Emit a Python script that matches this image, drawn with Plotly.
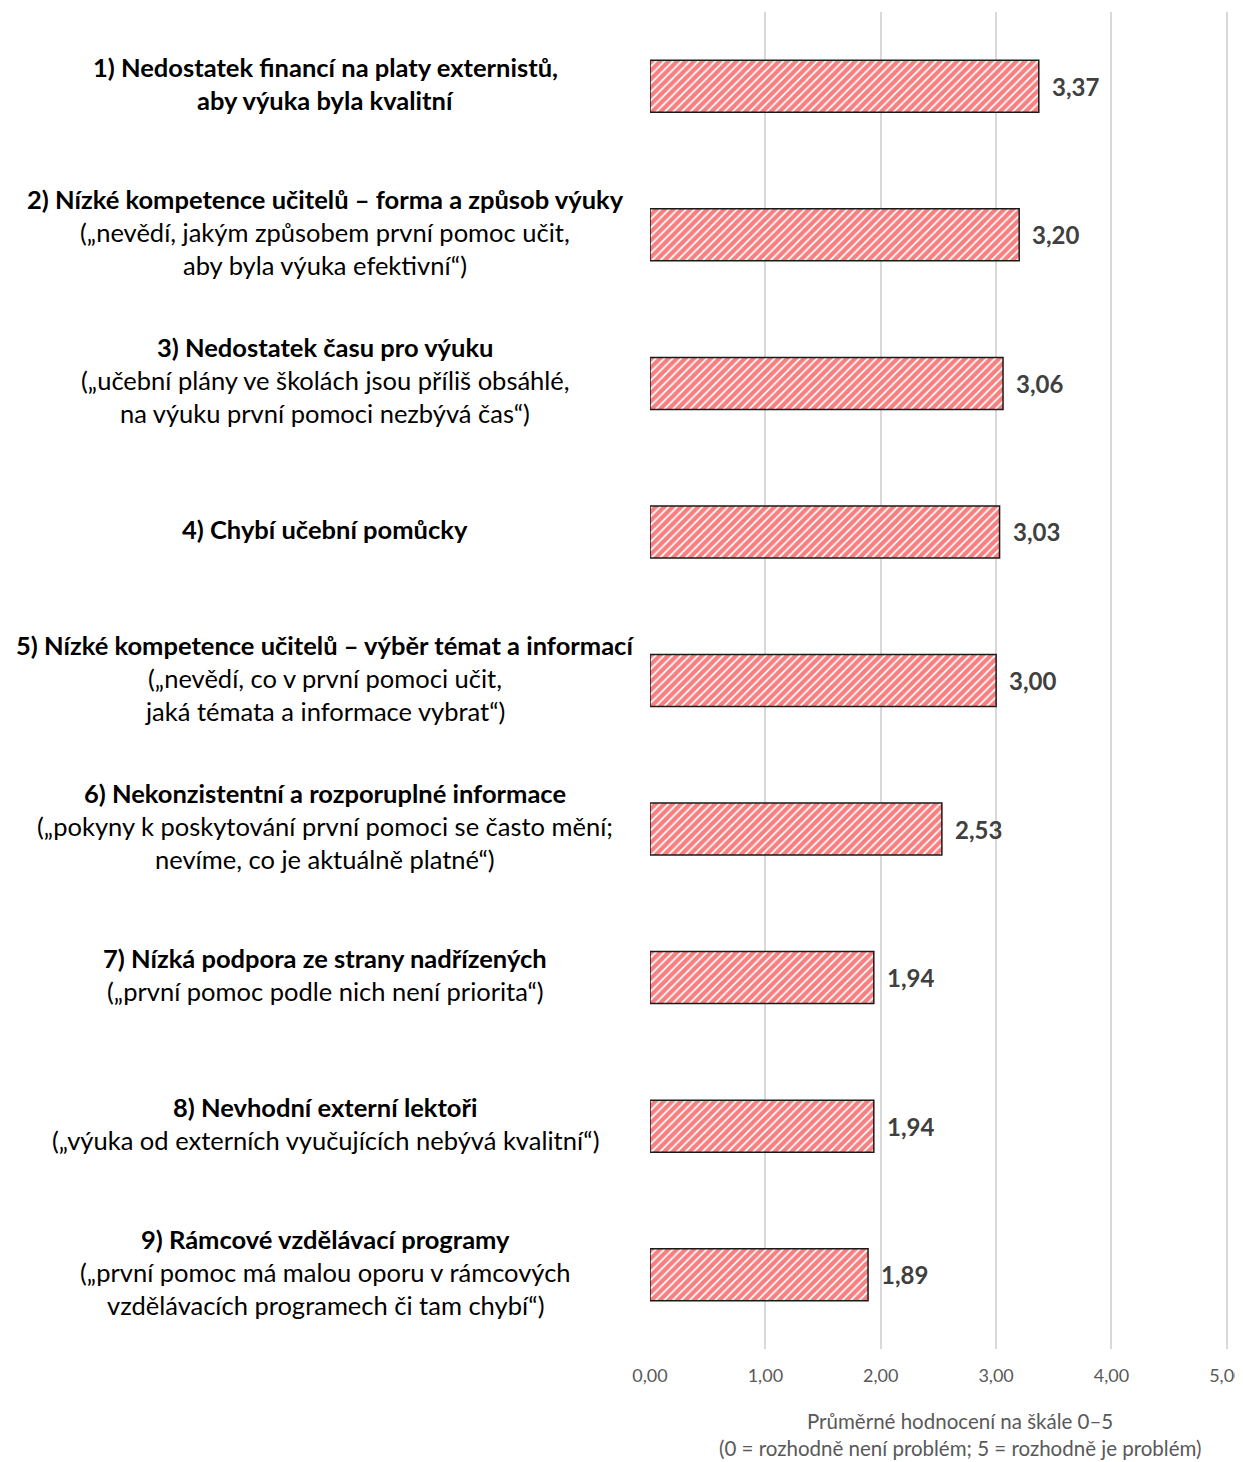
import plotly.graph_objects as go

categories = ["c1", "c2", "c3", "c4", "c5", "c6", "c7", "c8", "c9"]
values = [3.37, 3.20, 3.06, 3.03, 3.00, 2.53, 1.94, 1.94, 1.89]
value_labels = ["3,37", "3,20", "3,06", "3,03", "3,00", "2,53", "1,94", "1,94", "1,89"]
label_bold = [
    ["1) Nedostatek financí na platy externistů,", "aby výuka byla kvalitní"],
    ["2) Nízké kompetence učitelů – forma a způsob výuky"],
    ["3) Nedostatek času pro výuku"],
    ["4) Chybí učební pomůcky"],
    ["5) Nízké kompetence učitelů – výběr témat a informací"],
    ["6) Nekonzistentní a rozporuplné informace"],
    ["7) Nízká podpora ze strany nadřízených"],
    ["8) Nevhodní externí lektoři"],
    ["9) Rámcové vzdělávací programy"],
]
label_normal = [
    [],
    ["(„nevědí, jakým způsobem první pomoc učit,", "aby byla výuka efektivní“)"],
    ["(„učební plány ve školách jsou příliš obsáhlé,", "na výuku první pomoci nezbývá čas“)"],
    [],
    ["(„nevědí, co v první pomoci učit,", "jaká témata a informace vybrat“)"],
    ["(„pokyny k poskytování první pomoci se často mění;", "nevíme, co je aktuálně platné“)"],
    ["(„první pomoc podle nich není priorita“)"],
    ["(„výuka od externích vyučujících nebývá kvalitní“)"],
    ["(„první pomoc má malou oporu v rámcových", "vzdělávacích programech či tam chybí“)"],
]
tick_vals = [0, 1, 2, 3, 4, 5]
tick_text = ["0,00", "1,00", "2,00", "3,00", "4,00", "5,00"]
axis_title = ["Průměrné hodnocení na škále 0–5", "(0 = rozhodně není problém; 5 = rozhodně je problém)"]

FONT = "Lato"
OFF = 8  # default page body margin
W, H = 1243 - OFF, 1462 - OFF
ML, MR, MT, MB = 650 - OFF, 15, 12 - OFF, 113
PW = W - ML - MR
PH = H - MT - MB

fig = go.Figure()
fig.add_trace(go.Bar(
    x=values, y=categories, orientation="h", width=0.35,
    marker=dict(color="white",
                line=dict(color="#1a1a1a", width=1.5),
                pattern=dict(shape="/", fgcolor="#f00000", bgcolor="white",
                             size=6, solidity=0.7)),
    hoverinfo="skip",
))

annotations = []
LINE = 33
for cat, v, vl, bl, nl in zip(categories, values, value_labels, label_bold, label_normal):
    annotations.append(dict(x=v, y=cat, xref="x", yref="y", text="<b>" + vl + "</b>",
                            showarrow=False, xanchor="left", xshift=11,
                            font=dict(family=FONT, size=24, color="#404040")))
    lines = [("<b>" + t + "</b>") for t in bl] + list(nl)
    n = len(lines)
    for i, t in enumerate(lines):
        off = (i - (n - 1) / 2) * LINE
        annotations.append(dict(x=(325 - 650) / PW, y=cat, xref="paper", yref="y",
                                text=t, showarrow=False, xanchor="center", yanchor="middle",
                                yshift=-off + 3,
                                font=dict(family=FONT, size=25.5, color="black")))

for i, t in enumerate(axis_title):
    ypx = 1421 + i * 27
    annotations.append(dict(x=(960 - 650) / PW, y=-(ypx - 1349) / PH,
                            xref="paper", yref="paper", text=t, showarrow=False,
                            xanchor="center", yanchor="middle",
                            font=dict(family=FONT, size=20.5, color="#595959")))

fig.update_layout(
    width=W, height=H,
    margin=dict(l=ML, r=MR, t=MT, b=MB, autoexpand=False),
    paper_bgcolor="white", plot_bgcolor="white",
    showlegend=False,
    annotations=annotations,
    xaxis=dict(range=[0, 5.01], tickvals=tick_vals, ticktext=tick_text,
               showgrid=True, gridcolor="#d9d9d9", gridwidth=1.5,
               zeroline=False, showline=False, ticks="", automargin=False,
               ticklabelstandoff=14, ticklabeloverflow="allow",
               tickfont=dict(family=FONT, size=18, color="#595959")),
    yaxis=dict(type="category", categoryorder="array", categoryarray=categories,
               autorange="reversed", automargin=False,
               showticklabels=False, showgrid=False, zeroline=False, ticks=""),
)

fig.write_html("out.html")
